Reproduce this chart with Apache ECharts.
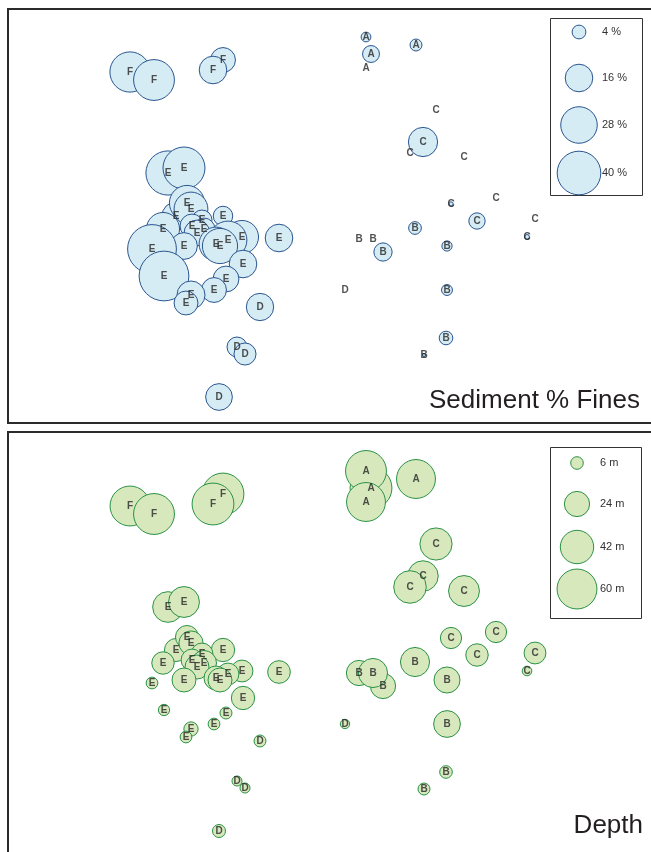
<!DOCTYPE html>
<html><head><meta charset="utf-8">
<script src="https://cdn.jsdelivr.net/npm/echarts@6/dist/echarts.min.js"></script>
<style>html,body{margin:0;padding:0;background:#fff}#c{width:651px;height:852px}</style>
</head><body><div id="c"></div><script>
// Site groups, ordination coordinates (MDS1, MDS2), % fines and depth (m)
const groups = ['F','F','F','F',
  'A','A','A','A',
  'C','C','C','C','C','C','C','C','C',
  'B','B','B','B','B','B','B','B',
  'D','D','D','D','D',
  'E','E','E','E','E','E','E','E','E','E','E','E','E','E','E','E','E','E','E','E','E','E','E','E'];
const mds1 = [-2.08,-1.84,-1.15,-1.25,
  0.33,0.28,0.28,0.78,
  0.98,0.85,0.72,1.26,1.13,1.58,1.39,1.97,1.89,
  0.21,0.45,0.35,0.77,1.09,1.09,1.08,0.86,
  -0.78,-1.01,-0.93,-1.19,0.07,
  -1.70,-1.54,-1.62,-1.75,-1.51,-1.47,-1.15,-1.36,-1.46,-1.34,-1.41,-1.54,-1.86,-1.74,-0.96,-1.10,-1.22,-1.18,-0.59,-0.95,-1.12,-1.24,-1.47,-1.52];
const mds2 = [1.44,1.36,1.56,1.46,
  1.62,1.79,1.48,1.71,
  1.06,0.74,0.63,0.59,0.12,0.18,-0.05,-0.03,-0.21,
  -0.23,-0.36,-0.23,-0.12,-0.30,-0.74,-1.22,-1.39,
  -0.91,-1.31,-1.38,-1.81,-0.74,
  0.43,0.48,0.00,-0.13,0.13,0.07,0.00,-0.04,-0.10,-0.13,-0.17,-0.30,-0.33,-0.60,-0.21,-0.24,-0.28,-0.30,-0.22,-0.48,-0.63,-0.74,-0.79,-0.87];
const fines = [34,35,13,16,
  6,2,0,3,
  0,18,0,0,0.4,0,5.6,0,0.5,
  0,7,0,3.4,2.2,2.5,3.9,0.2,
  15.7,8.4,10.2,15,0,
  41,37,16.5,23,26,24,8,8.4,12,10,14,15,50,52,23,30,24,26,16,16,14,13,16.5,12];
const depth = [60,63,66,66,
  66,63,57,57,
  39,35,40,36,17,17,19,18,3.5,
  24,24,32,32,25.5,27,6,5.4,
  5.4,3.8,3.8,6.4,3.3,
  35.5,36,20,19,20,22,20.5,18,18,23.6,21.7,21.7,5.2,4.8,18,18,21.7,21.7,19.4,20.5,5.4,5.2,7.7,5.2];
const finesLegend = [4,16,28,40];
const depthLegend = [6,24,42,60];
const titles = ['Sediment % Fines','Depth'];

const finesSize = v => 6.9*Math.sqrt(v);
const depthSize = v => 5.15*Math.sqrt(v);

const chart = echarts.init(document.getElementById('c'), null, {renderer:'canvas'});
const FONT = "'Liberation Sans', Arial, sans-serif";

function circleData(values){
  const out = [];
  values.forEach((v,i)=>{ if (v>0) out.push({name:groups[i], value:[mds1[i], mds2[i], v]}); });
  return out;
}
function labelData(){
  return groups.map((g,i)=>({name:g, value:[mds1[i], mds2[i]]}));
}
function circleSeries(idx, values, sizeFn, fill, stroke){
  return {type:'scatter', xAxisIndex:idx, yAxisIndex:idx, silent:true, z:2,
    symbol:'circle', symbolSize:(val)=>sizeFn(val[2]),
    itemStyle:{color:fill, borderColor:stroke, borderWidth:1, opacity:1},
    data:circleData(values)};
}
function labelSeries(idx){
  return {type:'scatter', xAxisIndex:idx, yAxisIndex:idx, silent:true, z:5,
    symbol:'circle', symbolSize:1, itemStyle:{color:'rgba(0,0,0,0)'},
    label:{show:true, position:'inside', formatter:p=>p.name, fontFamily:FONT, fontSize:10, fontWeight:'bold', color:'#262626'},
    data:labelData()};
}
function legendGraphics(values, sizeFn, cx, cys, tx, unit, fill, stroke, box){
  const els = [{type:'rect', shape:box, style:{fill:'#fff', stroke:'#333', lineWidth:1}, z:10}];
  values.forEach((v,i)=>{
    els.push({type:'circle', shape:{cx:cx, cy:cys[i], r:sizeFn(v)/2}, style:{fill:fill, stroke:stroke, lineWidth:1}, z:11});
    els.push({type:'text', x:tx, y:cys[i], style:{text:v+' '+unit, font:'11px '+FONT, fill:'#333', textAlign:'left', textVerticalAlign:'middle'}, z:11});
  });
  return els;
}

const blueFill='#d6ecf4', blueStroke='#2a5590', greenFill='#d8e8bd', greenStroke='#2a9245';

const graphics = []
  .concat(legendGraphics(finesLegend, finesSize, 579, [32,78,125,173], 602, '%', blueFill, blueStroke, {x:550.5, y:18.5, width:92, height:177}))
  .concat(legendGraphics(depthLegend, depthSize, 577, [463,504,547,589], 600, 'm', greenFill, greenStroke, {x:550.5, y:447.5, width:91, height:171}))
  .concat([
    {type:'text', x:640, y:401, style:{text:titles[0], font:'26px '+FONT, fill:'#231f20', textAlign:'right', textVerticalAlign:'middle'}, z:12},
    {type:'text', x:643, y:826, style:{text:titles[1], font:'26px '+FONT, fill:'#231f20', textAlign:'right', textVerticalAlign:'middle'}, z:12}
  ]);

chart.setOption({
  animation:false,
  backgroundColor:'#fff',
  grid:[
    {left:8, top:9, width:660, height:414, outerBoundsMode:'none', containLabel:false, show:true, borderColor:'#2b2b2b', borderWidth:2, backgroundColor:'transparent'},
    {left:8, top:432, width:660, height:440, outerBoundsMode:'none', containLabel:false, show:true, borderColor:'#2b2b2b', borderWidth:2, backgroundColor:'transparent'}
  ],
  xAxis:[
    {type:'value', gridIndex:0, min:-3.30, max:3.30, show:false},
    {type:'value', gridIndex:1, min:-3.30, max:3.30, show:false}
  ],
  yAxis:[
    {type:'value', gridIndex:0, min:-2.07, max:2.07, show:false},
    {type:'value', gridIndex:1, min:-2.22, max:2.18, show:false}
  ],
  series:[
    circleSeries(0, fines, finesSize, blueFill, blueStroke),
    labelSeries(0),
    circleSeries(1, depth, depthSize, greenFill, greenStroke),
    labelSeries(1)
  ],
  graphic:{elements:graphics}
});
</script></body></html>
